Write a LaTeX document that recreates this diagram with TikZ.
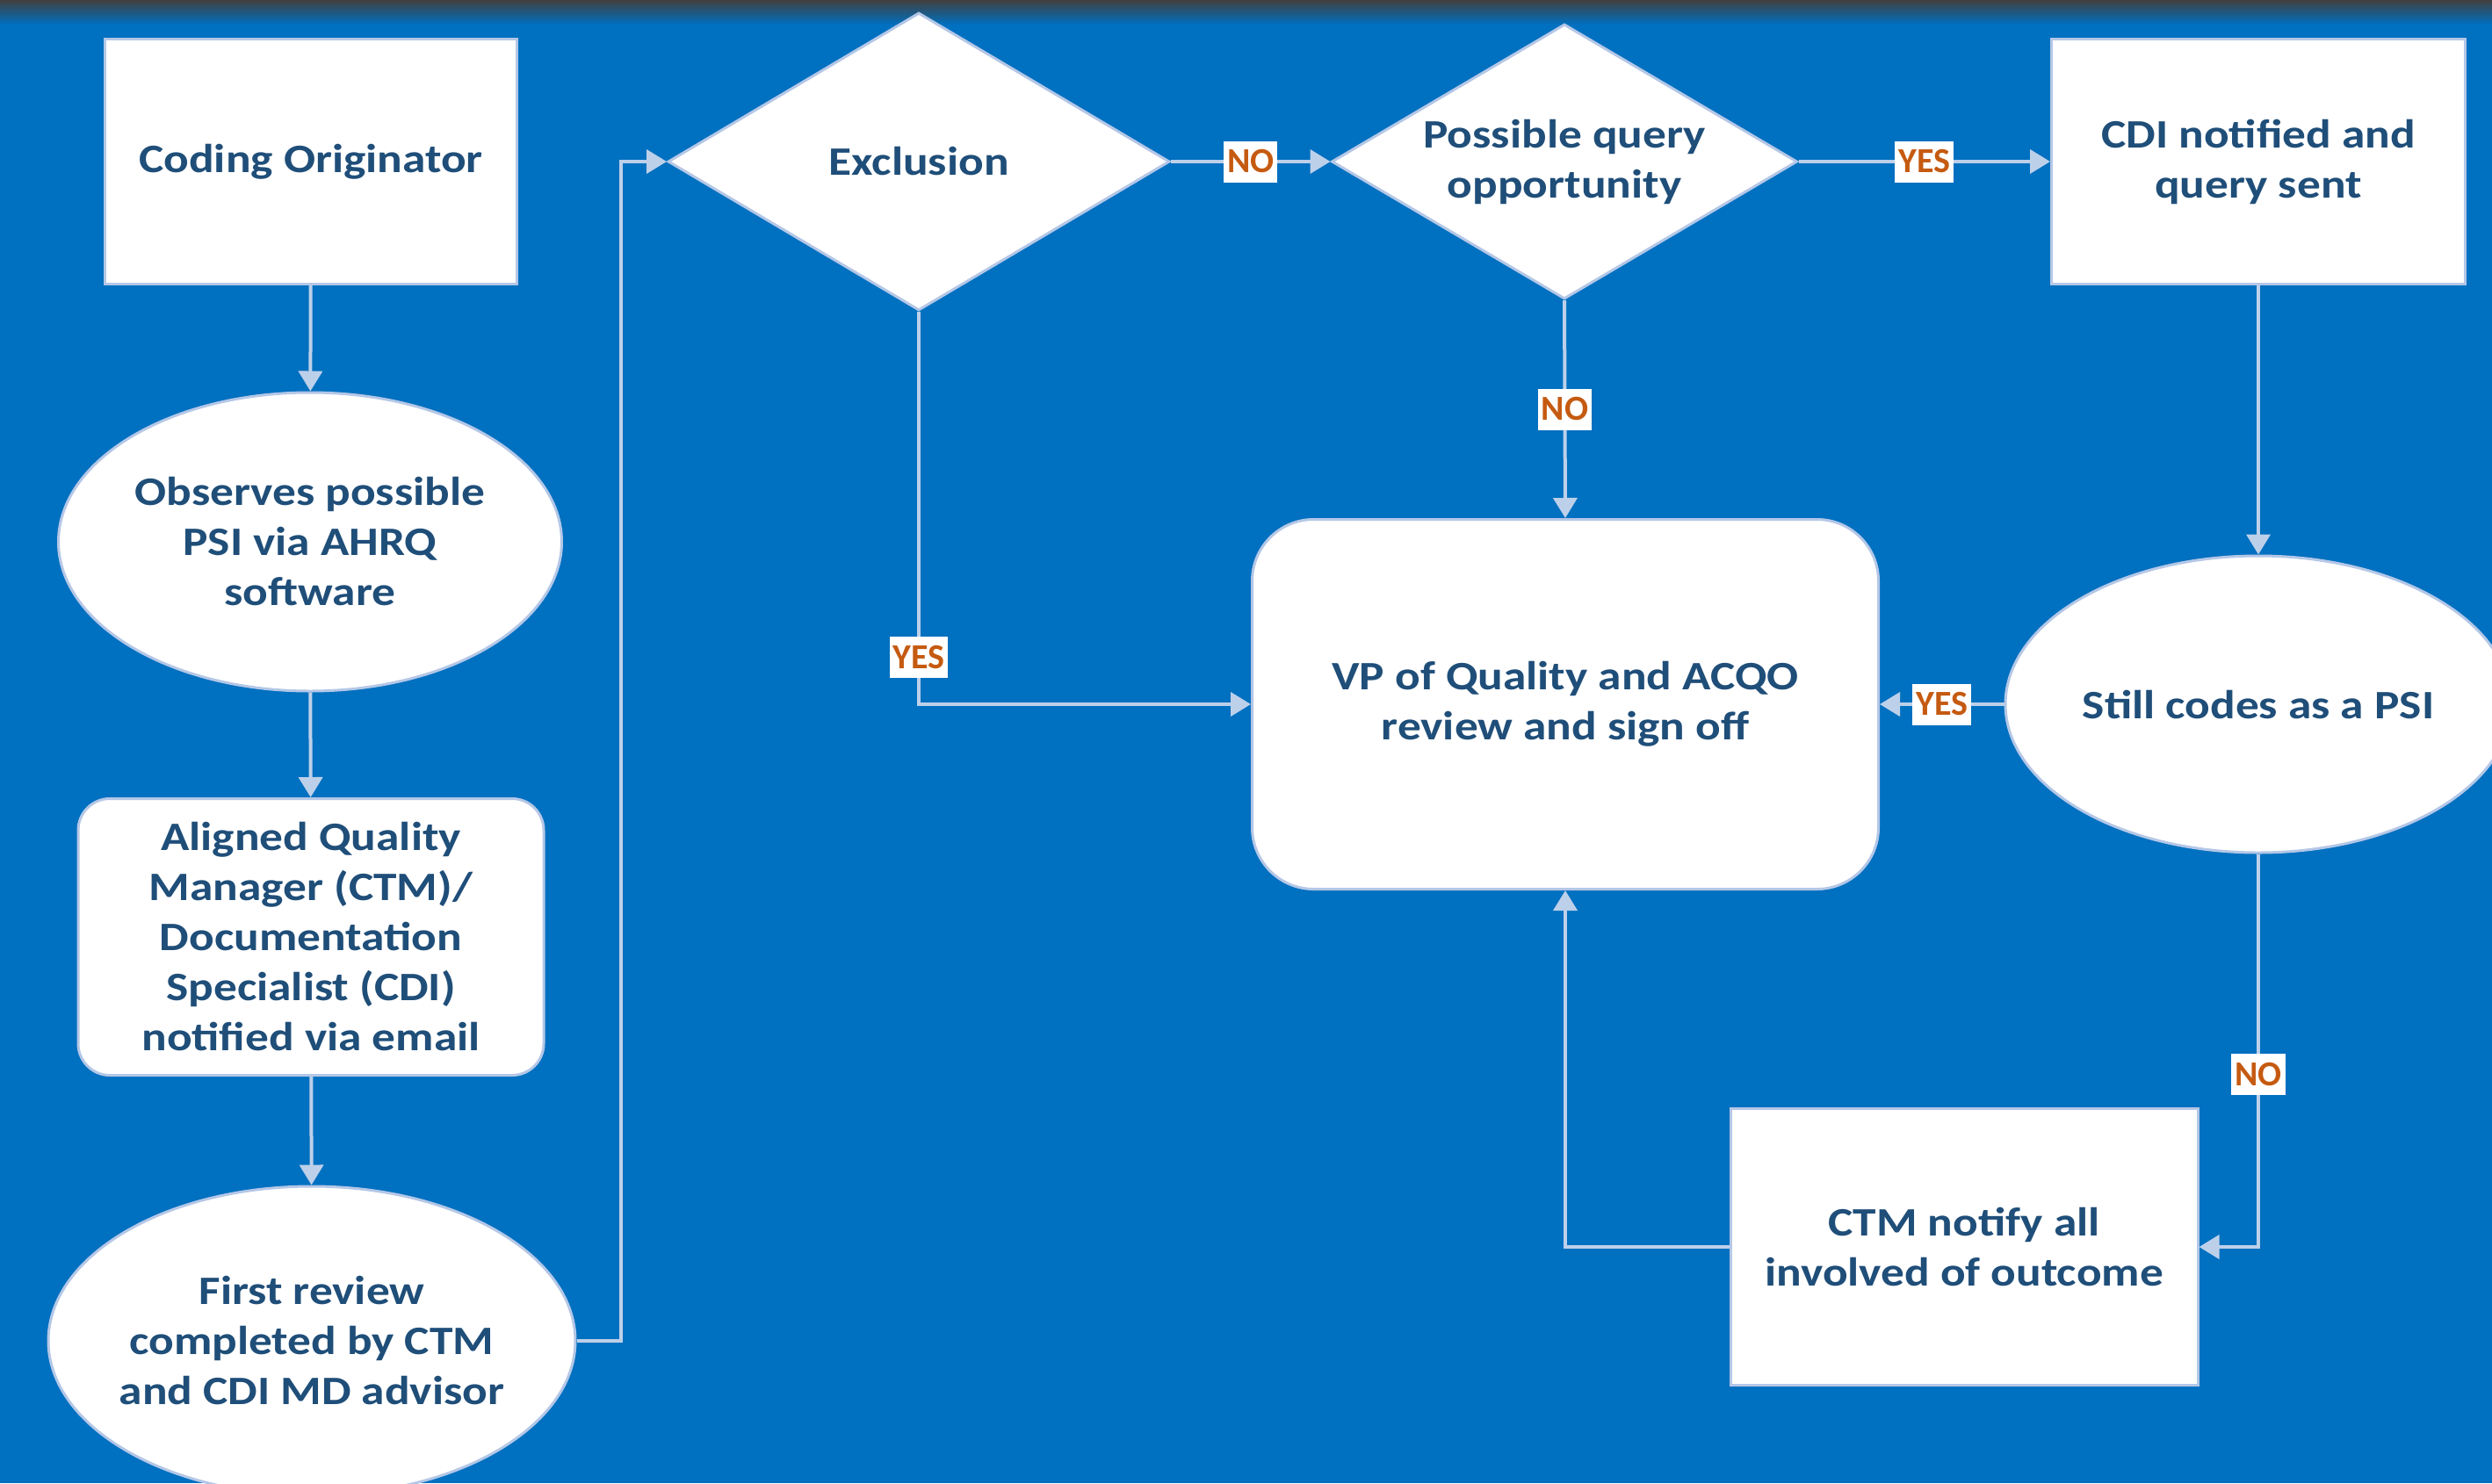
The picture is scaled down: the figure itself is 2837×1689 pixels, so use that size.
\documentclass[tikz,border=0pt]{standalone}
\usepackage{fontspec}
\setmainfont{Carlito}[FakeStretch=1.16]
\newfontfamily\labfont{Carlito}
\usetikzlibrary{shapes.geometric,arrows.meta,calc}
\definecolor{bg}{HTML}{0070C0}
\definecolor{band}{HTML}{404040}
\definecolor{txt}{HTML}{1F4E79}
\definecolor{lab}{HTML}{C55A11}
\definecolor{ln}{HTML}{BDD0EA}
\definecolor{bd}{HTML}{B4C7E7}
\begin{document}
\begin{tikzpicture}[x=1pt,y=-1pt,
  base/.style={draw=bd,line width=3pt,fill=white,text=txt,align=center,inner sep=0pt,
    font=\fontsize{46}{57}\selectfont\bfseries},
  sqbox/.style={base,rectangle},
  rbox/.style={base,rectangle,rounded corners=36pt},
  ell/.style={base,ellipse},
  dia/.style={base,diamond,aspect=1.7},
  arr/.style={draw=ln,line width=4pt,-{Triangle[length=23pt,width=27pt]}},
  lbl/.style={fill=white,text=lab,inner xsep=4pt,inner ysep=0pt,minimum height=47pt,
    font=\labfont\fontsize{40}{48}\selectfont\bfseries}]
\useasboundingbox (0,0) rectangle (2837,1689);
\fill[bg] (0,0) rectangle (2837,1689);
\shade[top color=band,bottom color=bg] (0,0) rectangle (2837,28);
\fill[band] (0,0) rectangle (2837,3);

\node[sqbox,minimum width=469pt,minimum height=279pt] (coding) at (354,184) {Coding Originator};
\node[ell,minimum width=573pt,minimum height=340pt] (obs) at (353,617) {Observes possible\\PSI via AHRQ\\software};
\node[rbox,minimum width=530pt,minimum height=315pt] (align) at (354,1067) {Aligned Quality\\Manager (CTM)/\\Documentation\\Specialist (CDI)\\notified via email};
\node[ell,inner xsep=-60pt,inner ysep=-30pt,minimum width=600pt,minimum height=352pt] (first) at (355,1527) {First review\\completed by CTM\\and CDI MD advisor};
\node[dia,minimum width=571pt,minimum height=339pt] (excl) at (1046,184) {Exclusion};
\node[dia,minimum width=530pt,minimum height=313pt] (poss) at (1781,184) {Possible query\\opportunity};
\node[sqbox,minimum width=471pt,minimum height=279pt] (cdi) at (2571,184) {CDI notified and\\query sent};
\node[rbox,rounded corners=70pt,minimum width=713pt,minimum height=421pt] (vp) at (1782,802) {VP of Quality and ACQO\\review and sign off};
\node[ell,minimum width=576pt,minimum height=338pt] (still) at (2571,802) {Still codes as a PSI};
\node[sqbox,minimum width=532pt,minimum height=315pt] (ctm) at (2236,1420) {CTM notify all\\involved of outcome};

\draw[arr] (coding) -- (obs);
\draw[arr] (obs) -- (align);
\draw[arr] (align) -- (first);
\draw[arr] (first.east) -- ++(50,0) |- (excl.west);
\draw[arr] (excl.east) -- node[lbl] {NO} (poss.west);
\draw[arr] (poss.east) -- node[lbl] {YES} (cdi.west);
\draw[arr] (poss.south) -- node[lbl] {NO} (vp.north);
\draw[arr] (excl.south) |- node[lbl,pos=0.44] {YES} (vp.west);
\draw[arr] (cdi.south) -- (still.north);
\draw[arr] (still.west) -- node[lbl] {YES} (vp.east);
\draw[arr] (still.south) |- node[lbl,pos=0.28] {NO} (ctm.east);
\draw[arr] (ctm.west) -| (vp.south);
\end{tikzpicture}
\end{document}
